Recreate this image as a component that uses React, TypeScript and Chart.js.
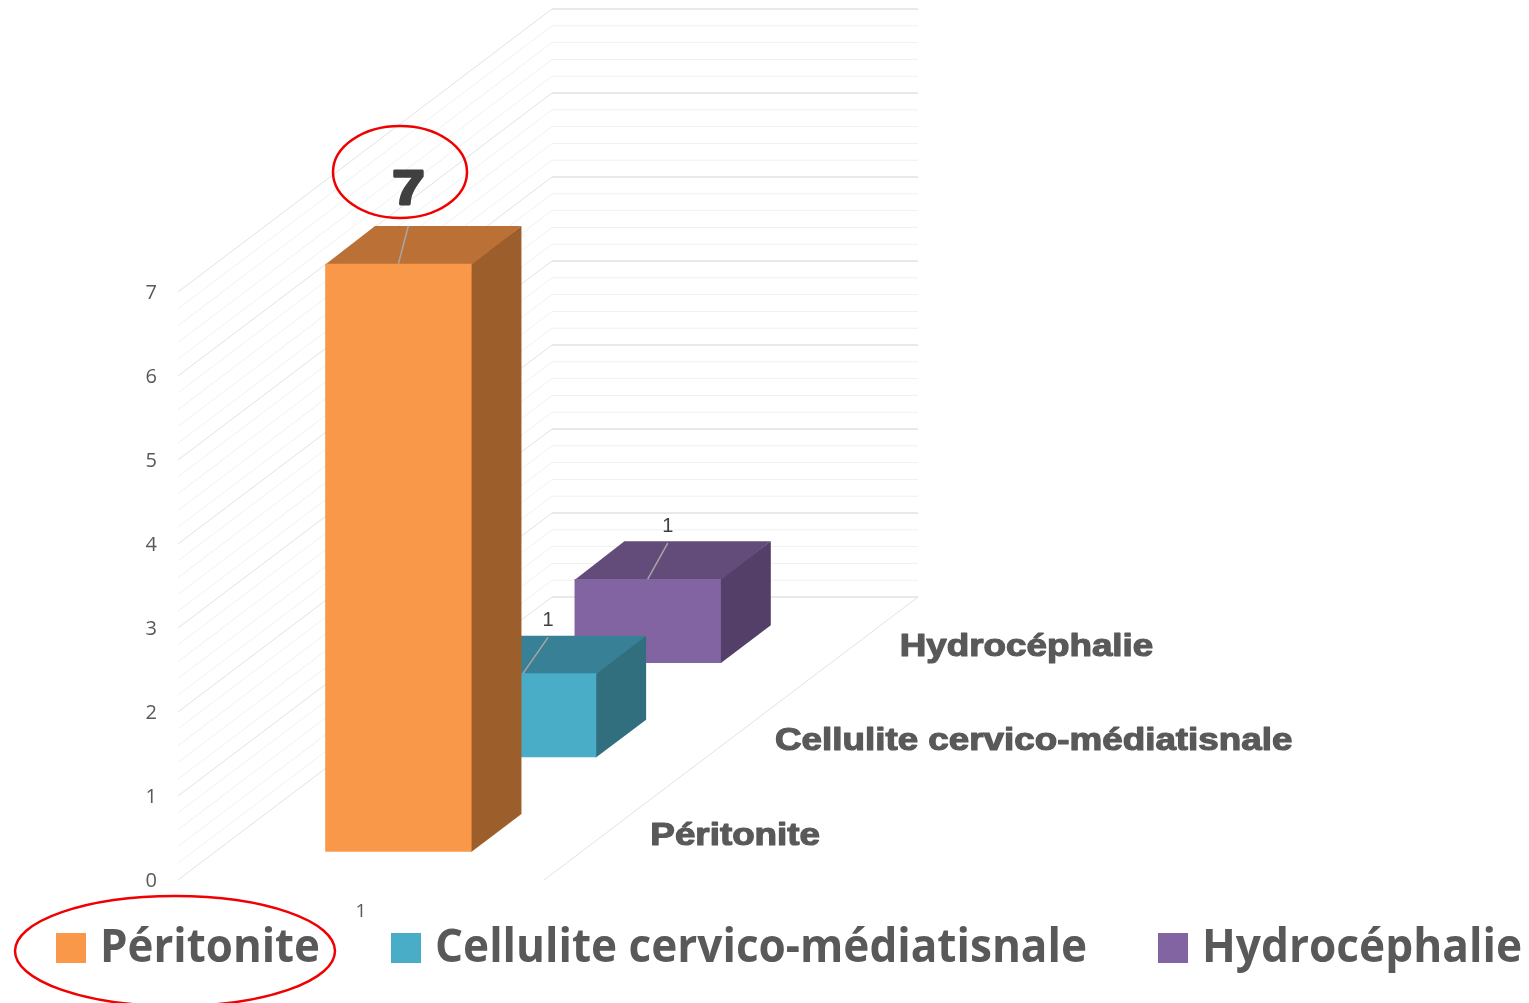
import React, { useEffect, useRef } from "react";
import { Chart, registerables } from "chart.js";

Chart.register(...registerables);

// ---- data ----
const xLabels = ["1"];
const seriesNames = ["Péritonite", "Cellulite cervico-médiatisnale", "Hydrocéphalie"];
const seriesValues = [7, 1, 1];

// ---- styles ----
const frontColors = ["#FA9849", "#4AADC8", "#8264A2"];
const topColors = ["#BB7036", "#378095", "#634C7A"];
const sideColors = ["#9C5F2B", "#316E7E", "#533F68"];
const TEXT = "#595959";
const DARK = "#404040";
const GRID_MAJOR = "#E2E2E2";
const GRID_MINOR = "#F0F0F0";
const RED = "#F00000";
const MINOR_PER_UNIT = 5;

const CHART_LEFT = 178;
const CHART_RIGHT = 544;
const CHART_TOP = 292;
const CHART_BOTTOM = 880;
const W = 1529;
const H = 1003;
// projection of the whole depth axis on screen
const DEPTH_X = 374;
const DEPTH_Y = -283;
const SLOT = 1 / seriesNames.length;
const BAR_DEPTH = SLOT * 0.4;

const leaders = [
  { dx: 10, dy: -38, tx: 10, ty: -73, size: 50, bold: true },
  { dx: 25, dy: -36, tx: 25, ty: -53, size: 20, bold: false },
  { dx: 20, dy: -36, tx: 20, ty: -53, size: 20, bold: false },
];
const legendLayout = [
  { box: 56, text: 100, width: 220 },
  { box: 391, text: 435, width: 652 },
  { box: 1158, text: 1202, width: 320 },
];

function poly(ctx: CanvasRenderingContext2D, pts: number[][], fill: string) {
  ctx.beginPath();
  pts.forEach((p, i) => (i ? ctx.lineTo(p[0], p[1]) : ctx.moveTo(p[0], p[1])));
  ctx.closePath();
  ctx.fillStyle = fill;
  ctx.fill();
}

function seg(ctx: CanvasRenderingContext2D, a: number[], b: number[], c: string, w = 1) {
  ctx.beginPath();
  ctx.moveTo(a[0], a[1]);
  ctx.lineTo(b[0], b[1]);
  ctx.strokeStyle = c;
  ctx.lineWidth = w;
  ctx.stroke();
}

const bar3d = {
  id: "bar3d",
  beforeDatasetsDraw(chart: any) {
    const { ctx, scales } = chart;
    const y = scales.y;
    ctx.save();
    const lines: { v: number; major: boolean }[] = [];
    const max = y.max;
    for (let u = 0; u <= max; u++) {
      for (let m = 0; m < MINOR_PER_UNIT; m++) {
        if (u === max && m > 0) break;
        lines.push({ v: u + m / MINOR_PER_UNIT, major: m === 0 });
      }
    }
    lines.sort((a, b) => Number(a.major) - Number(b.major));
    const left = chart.chartArea.left;
    const backL = left + DEPTH_X;
    const backR = chart.chartArea.right + DEPTH_X;
    for (const l of lines) {
      const py = y.getPixelForValue(l.v);
      const c = l.major ? GRID_MAJOR : GRID_MINOR;
      seg(ctx, [left, py], [backL, py + DEPTH_Y], c, 1);
      seg(ctx, [backL, py + DEPTH_Y], [backR, py + DEPTH_Y], c, l.major ? 1.5 : 1);
    }
    const y0 = y.getPixelForValue(0);
    seg(ctx, [chart.chartArea.right, y0], [backR, y0 + DEPTH_Y], GRID_MAJOR, 1);
    ctx.restore();
  },
  beforeDatasetDraw(chart: any, args: any) {
    const i = args.index;
    const el = chart.getDatasetMeta(i).data[0];
    const { ctx } = chart;
    const front = i * SLOT + (SLOT - BAR_DEPTH) / 2;
    const ox = front * DEPTH_X;
    const oy = front * DEPTH_Y;
    const dx = BAR_DEPTH * DEPTH_X;
    const dy = BAR_DEPTH * DEPTH_Y;
    const x0 = el.x - el.width / 2 + ox;
    const x1 = el.x + el.width / 2 + ox;
    const top = el.y + oy;
    const bot = el.base + oy;
    ctx.save();
    // side and top run one pixel under the front face so no seam shows through
    poly(ctx, [[x1 - 1, top], [x1 + dx, top + dy], [x1 + dx, bot + dy], [x1, bot], [x1 - 1, bot]], sideColors[i]);
    poly(ctx, [[x0, top + 1], [x0 + dx, top + dy], [x1 + dx, top + dy], [x1, top + 1]], topColors[i]);
    poly(ctx, [[x0, top], [x1, top], [x1, bot], [x0, bot]], frontColors[i]);
    ctx.restore();
    return false;
  },
  afterDatasetsDraw(chart: any) {
    const { ctx, data, scales } = chart;
    ctx.save();
    // value labels and leader lines
    data.datasets.forEach((ds: any, i: number) => {
      const el = chart.getDatasetMeta(i).data[0];
      const front = i * SLOT + (SLOT - BAR_DEPTH) / 2;
      const cx = el.x + front * DEPTH_X;
      const cy = el.y + front * DEPTH_Y;
      const l = leaders[i];
      seg(ctx, [cx, cy], [cx + l.dx, cy + l.dy], "#A6A6A6", 1.5);
      ctx.save();
      ctx.translate(cx + l.tx, cy + l.ty);
      ctx.font = `${l.bold ? "bold " : ""}${l.size}px "Liberation Sans"`;
      ctx.textAlign = "center";
      ctx.textBaseline = "middle";
      ctx.fillStyle = DARK;
      if (l.bold) {
        ctx.scale(1.15, 0.95);
        ctx.strokeStyle = DARK;
        ctx.lineWidth = 3;
        ctx.lineJoin = "round";
        ctx.strokeText(String(ds.data[0]), 0, 0);
      }
      ctx.fillText(String(ds.data[0]), 0, 0);
      ctx.restore();
    });
    // depth-axis labels
    const y0 = scales.y.getPixelForValue(0);
    const right = chart.chartArea.right;
    seriesNames.forEach((name, i) => {
      const d = (i + 0.5) * SLOT;
      const ex = right + d * DEPTH_X + 44;
      const ey = y0 + d * DEPTH_Y + 3;
      ctx.save();
      ctx.translate(ex, ey);
      ctx.scale(1.15, 1);
      ctx.font = 'bold 32px "Liberation Sans"';
      ctx.textAlign = "left";
      ctx.textBaseline = "middle";
      ctx.fillStyle = TEXT;
      ctx.strokeStyle = TEXT;
      ctx.lineWidth = 1.2;
      ctx.lineJoin = "round";
      ctx.strokeText(name, 0, 0);
      ctx.fillText(name, 0, 0);
      ctx.restore();
    });
    // legend
    data.datasets.forEach((ds: any, i: number) => {
      const p = legendLayout[i];
      ctx.fillStyle = frontColors[i];
      ctx.fillRect(p.box, 933, 30, 30);
      ctx.save();
      ctx.font = '700 47px "Open Sans"';
      ctx.textAlign = "left";
      ctx.textBaseline = "middle";
      const w = ctx.measureText(ds.label).width;
      ctx.translate(p.text, 949);
      ctx.scale(p.width / w, 1);
      ctx.fillStyle = TEXT;
      ctx.fillText(ds.label, 0, 0);
      ctx.restore();
    });
    // hand-drawn highlight ellipses
    ctx.strokeStyle = RED;
    ctx.lineWidth = 2.5;
    ctx.beginPath();
    ctx.ellipse(400, 172, 67, 46, 0, 0, Math.PI * 2);
    ctx.stroke();
    ctx.beginPath();
    ctx.ellipse(175, 951, 160, 55, 0, 0, Math.PI * 2);
    ctx.stroke();
    ctx.restore();
  },
};

export default function App() {
  const ref = useRef<HTMLCanvasElement>(null);
  useEffect(() => {
    const chart = new Chart(ref.current as HTMLCanvasElement, {
      type: "bar",
      data: {
        labels: xLabels,
        datasets: seriesNames.map((name, i) => ({
          label: name,
          data: [seriesValues[i]],
          backgroundColor: frontColors[i],
          grouped: false,
          barPercentage: 0.4,
          categoryPercentage: 1,
        })),
      },
      options: {
        responsive: false,
        animation: false,
        layout: { padding: { top: CHART_TOP, right: W - CHART_RIGHT, left: 0, bottom: 0 } },
        plugins: { legend: { display: false }, tooltip: { enabled: false }, title: { display: false } },
        scales: {
          x: {
            grid: { display: false, drawTicks: false },
            border: { display: false },
            ticks: { color: TEXT, font: { family: "Open Sans", size: 19 }, padding: 20 },
            afterFit: (s: any) => { s.height = H - CHART_BOTTOM; },
          },
          y: {
            min: 0,
            max: 7,
            grid: { display: false, drawTicks: false },
            border: { display: false },
            ticks: { stepSize: 1, color: TEXT, font: { family: "Open Sans", size: 20 }, padding: 21, labelOffset: 1.5 },
            afterFit: (s: any) => { s.width = CHART_LEFT; },
          },
        },
      } as any,
      plugins: [bar3d as any],
    });
    return () => chart.destroy();
  }, []);
  return (
    <div style={{ position: "absolute", left: 0, top: 0, width: W, height: H, background: "#fff" }}>
      <canvas ref={ref} width={W} height={H} style={{ display: "block" }} />
    </div>
  );
}
